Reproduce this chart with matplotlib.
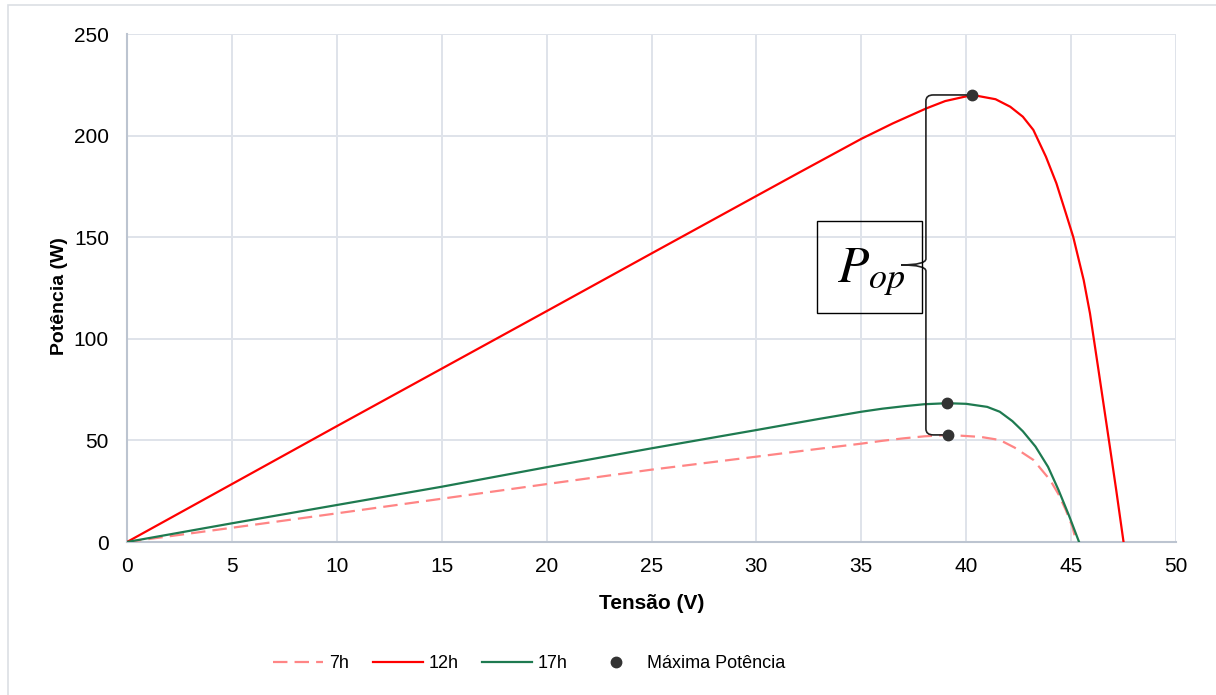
import matplotlib
matplotlib.use("Agg")
import matplotlib.pyplot as plt
from matplotlib.lines import Line2D
from matplotlib.patches import Rectangle, PathPatch
from matplotlib.path import Path

# ---- data: P-V curves of the module at three times of day ----
v_7h = [0, 5, 10, 15, 20, 25, 30, 33, 35, 36, 37, 38, 39.15, 40.7, 41.6, 42.3, 43.2, 44.0, 44.4, 44.75,
        45.06, 45.25]
p_7h = [0, 7.0, 14.1, 21.3, 28.5, 35.6, 42.0, 45.9, 48.4, 49.8, 51.0, 52.0, 52.7, 51.7, 50.2, 46.5, 40.4,
        30.5, 23.5, 15.7, 7.5, 0]

v_12h = [0, 5, 10, 15, 20, 25, 30, 32, 35, 36.5, 38.1, 39, 40.3, 41.4, 42.1, 42.7, 43.2, 43.8, 44.3,
         44.75, 45.1, 45.6, 45.9, 46.3, 46.8, 47.15, 47.5]
p_12h = [0, 28.5, 57.0, 85.3, 113.6, 142.0, 170.3, 181.6, 198.4, 206.0, 213.4, 217.0, 220.0, 217.9, 214.2,
         209.3, 202.8, 189.6, 176.5, 161.8, 150.2, 128.9, 112.5, 85.0, 50.2, 25.6, 0]

v_17h = [0, 5, 10, 15, 20, 25, 30, 33, 35, 36, 37.1, 38, 39.1, 40, 41, 41.6, 42.2, 42.7, 43.3, 43.9,
         44.4, 44.9, 45.38]
p_17h = [0, 9.2, 18.2, 27.2, 36.8, 46.1, 55.1, 60.6, 64.1, 65.6, 66.9, 67.8, 68.3, 68.0, 66.5, 64.1,
         59.5, 54.5, 47.0, 37.0, 25.6, 13.0, 0]

# maximum power points (7h, 12h, 17h)
v_mpp = [39.15, 40.3, 39.1]
p_mpp = [52.7, 220.0, 68.3]

series_labels = ["7h", "12h", "17h", "Máxima Potência"]
x_ticks = [0, 5, 10, 15, 20, 25, 30, 35, 40, 45, 50]
y_ticks = [0, 50, 100, 150, 200, 250]

# ---- style ----
plt.rcParams["font.family"] = ["Liberation Sans", "DejaVu Sans"]
plt.rcParams["mathtext.fontset"] = "stix"

c_7h = "#ff8585"
c_12h = "#ff0000"
c_17h = "#1e7a50"
c_mpp = "#333333"
grid_c = "#dfe3ea"
spine_c = "#bcc4d0"

W, H = 1216, 695
fig = plt.figure(figsize=(W / 100, H / 100), dpi=100)
ax = fig.add_axes([127 / W, 1 - 542 / H, (1176 - 127) / W, (542 - 34) / H])

# outer chart frame
fig.patches.append(Rectangle((7.5 / W, -3 / H), (W + 10 - 7.5) / W, (H - 5 + 3) / H,
                             transform=fig.transFigure, fill=False, edgecolor="#dcdfe4", lw=1.2))

ax.plot(v_7h, p_7h, color=c_7h, lw=1.6, dashes=(6.5, 3.2), zorder=3)
ax.plot(v_12h, p_12h, color=c_12h, lw=1.6, zorder=3)
ax.plot(v_17h, p_17h, color=c_17h, lw=1.6, zorder=3)
ax.plot(v_mpp, p_mpp, ls="none", marker="o", ms=7.5, color=c_mpp, zorder=5)

ax.set_xlim(0, 50)
ax.set_ylim(0, 250)
ax.set_xticks(x_ticks)
ax.set_yticks(y_ticks)
ax.tick_params(length=0, labelsize=15, colors="black")
ax.tick_params(axis="x", pad=11)
ax.tick_params(axis="y", pad=13)
ax.grid(True, color=grid_c, lw=1.4, zorder=0)
ax.set_axisbelow(True)
for s in ("top", "right"):
    ax.spines[s].set_visible(False)
for s in ("left", "bottom"):
    ax.spines[s].set_color(spine_c)
    ax.spines[s].set_linewidth(1.5)
    ax.spines[s].set_zorder(2)

ax.set_xlabel("Tensão (V)", fontsize=15, fontweight="bold", labelpad=13)
ax.set_ylabel("Potência (W)", fontsize=14, fontweight="bold")
ax.yaxis.set_label_coords((68 - 127) / 1049, (542 - 296.5) / 508)

# curly brace spanning the maximum power points
x_v = 38.08
x_tip = 36.9
y_top = p_mpp[1]
y_bot = p_mpp[0]
y_mid = (y_top + y_bot) / 2
ry = 3.0
rx = 0.35
verts = [
    (v_mpp[1], y_top), (x_v + rx, y_top),
    (x_v, y_top), (x_v, y_top - ry),
    (x_v, y_mid + ry),
    (x_v, y_mid), (x_tip, y_mid),
    (x_v, y_mid), (x_v, y_mid - ry),
    (x_v, y_bot + ry),
    (x_v, y_bot), (x_v + rx, y_bot),
    (v_mpp[0], y_bot),
]
codes = [Path.MOVETO, Path.LINETO,
         Path.CURVE3, Path.CURVE3,
         Path.LINETO,
         Path.CURVE3, Path.CURVE3,
         Path.CURVE3, Path.CURVE3,
         Path.LINETO,
         Path.CURVE3, Path.CURVE3,
         Path.LINETO]
ax.add_patch(PathPatch(Path(verts, codes), fill=False, edgecolor="#222222", lw=1.2, zorder=4))

# label box
ax.add_patch(Rectangle((32.9, 112.5), 37.9 - 32.9, 158.0 - 112.5, fill=False,
                       edgecolor="black", lw=1.0, zorder=4))
ax.text(35.45, 132.5, r"$P_{op}$", fontsize=37, ha="center", va="center", zorder=6)

# legend
handles = [
    Line2D([], [], color=c_7h, lw=1.6, dashes=(6.5, 3.2)),
    Line2D([], [], color=c_12h, lw=1.6),
    Line2D([], [], color=c_17h, lw=1.6),
    Line2D([], [], ls="none", marker="o", ms=7.5, color=c_mpp),
]
fig.legend(handles, series_labels, loc="center", bbox_to_anchor=(529.5 / W, 1 - 664 / H),
           ncol=4, frameon=False, handlelength=2.77, handletextpad=0.33, columnspacing=1.3,
           prop={"size": 13})

fig.savefig("out.png", dpi=100)
